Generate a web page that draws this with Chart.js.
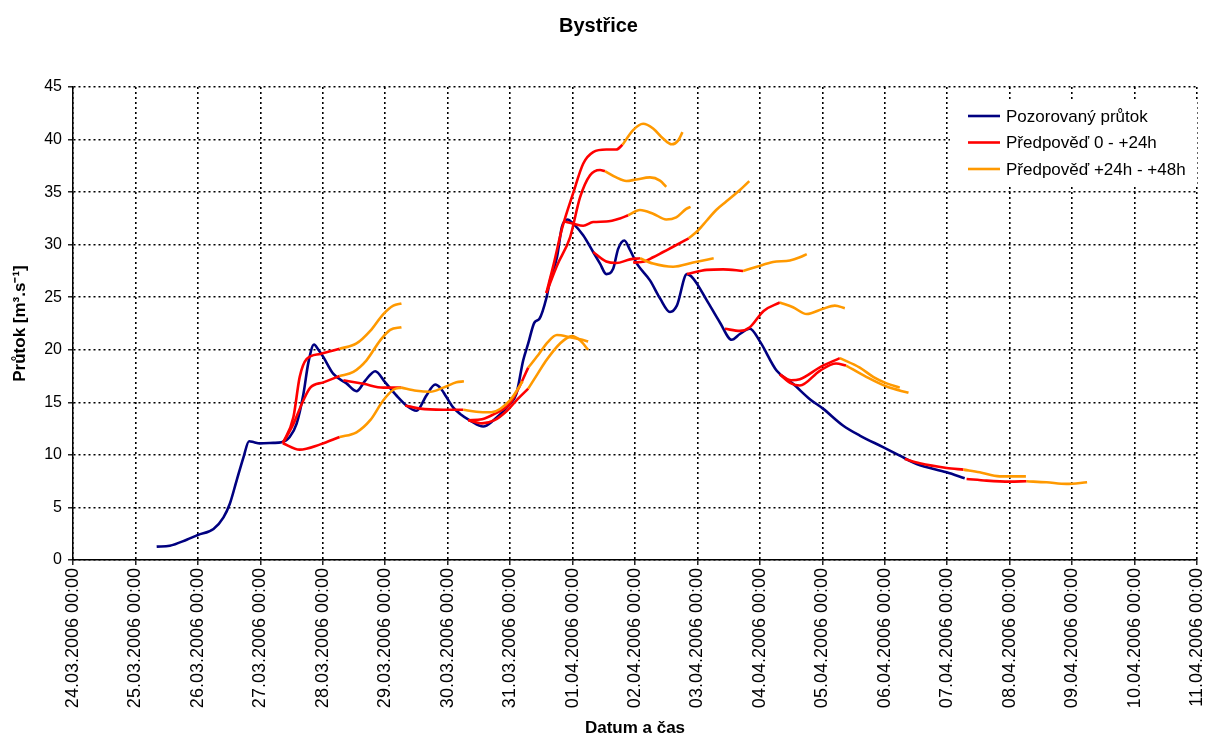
<!DOCTYPE html>
<html>
<head>
<meta charset="utf-8">
<title>Bystřice</title>
<script src="https://cdn.jsdelivr.net/npm/chart.js@4"></script>
<style>
  html, body { margin: 0; padding: 0; background: #fff; }
  #wrap { width: 1206px; height: 737px; position: relative; }
</style>
</head>
<body>
<div id="wrap"><canvas id="chart"></canvas></div>
<script>
// Day ticks: x values are days counted from 24.03.2006 00:00
const dayLabels = [
  '24.03.2006 00:00', '25.03.2006 00:00', '26.03.2006 00:00', '27.03.2006 00:00',
  '28.03.2006 00:00', '29.03.2006 00:00', '30.03.2006 00:00', '31.03.2006 00:00',
  '01.04.2006 00:00', '02.04.2006 00:00', '03.04.2006 00:00', '04.04.2006 00:00',
  '05.04.2006 00:00', '06.04.2006 00:00', '07.04.2006 00:00', '08.04.2006 00:00',
  '09.04.2006 00:00', '10.04.2006 00:00', '11.04.2006 00:00'
];

const seriesNames = ['Pozorovaný průtok', 'Předpověď 0 - +24h', 'Předpověď +24h - +48h'];
const seriesColors = ['#000080', '#FF0000', '#FF9900'];

// Observed discharge [m3/s]
const observedDays = [
  1.34, 1.55, 1.82, 2.00, 2.25, 2.41, 2.51, 2.62, 2.73, 2.82, 2.90, 2.99, 3.21, 3.34,
  3.47, 3.58, 3.69, 3.77, 3.86, 3.93, 4.01, 4.17, 4.38, 4.54, 4.68, 4.84, 5.00, 5.18,
  5.34, 5.50, 5.66, 5.80, 5.88, 5.98, 6.09, 6.20, 6.36, 6.57, 6.73, 7.00, 7.10, 7.21,
  7.29, 7.39, 7.47, 7.58, 7.64, 7.75, 7.83, 7.92, 8.01, 8.17, 8.33, 8.44, 8.54, 8.65,
  8.73, 8.83, 8.92, 9.03, 9.24, 9.40, 9.56, 9.67, 9.83, 9.93, 10.15, 10.36, 10.55,
  10.68, 10.84, 11.00, 11.27, 11.53, 11.80, 12.01, 12.33, 12.60, 12.98, 13.24, 13.51,
  13.99, 14.28
];
const observedFlow = [
  1.27, 1.36, 1.93, 2.38, 2.95, 4.06, 5.33, 7.55, 9.77, 11.3, 11.2, 11.1, 11.14, 11.2,
  11.7, 12.95, 15.8, 18.8, 20.5, 20.0, 19.3, 17.7, 16.8, 16.06, 17.07, 17.96, 16.9, 15.65,
  14.7, 14.2, 15.65, 16.7, 16.4, 15.5, 14.5, 13.9, 13.27, 12.7, 13.27, 14.86, 15.8, 19.0,
  20.6, 22.6, 22.95, 24.9, 26.6, 28.8, 31.7, 32.4, 32.0, 30.9, 29.3, 28.2, 27.2, 27.7,
  29.6, 30.4, 29.5, 28.2, 26.6, 24.9, 23.6, 24.2, 27.2, 26.8, 24.7, 22.6, 20.95,
  21.5, 22.0, 20.8, 18.0, 16.76, 15.3, 14.4, 12.8, 11.84, 10.72, 9.93, 9.14,
  8.34, 7.77
];

// Forecast runs, first 24 hours: [day, discharge]
const forecast0to24 = [
  [[3.36, 11.1], [3.53, 13.6], [3.63, 17.4], [3.74, 19.1], [3.96, 19.6], [4.27, 20.1]],
  [[3.36, 11.1], [3.53, 12.95], [3.69, 15.2], [3.80, 16.4], [4.01, 16.9], [4.27, 17.5]],
  [[3.36, 11.1], [3.63, 10.5], [3.96, 11.0], [4.27, 11.7]],
  [[4.33, 17.1], [4.65, 16.76], [4.97, 16.4], [5.26, 16.4]],
  [[5.32, 14.7], [5.56, 14.4], [5.93, 14.3], [6.25, 14.3]],
  [[6.33, 13.3], [6.55, 13.0], [6.75, 13.3], [6.95, 14.2], [7.12, 15.3], [7.29, 16.3]],
  [[6.33, 13.3], [6.55, 13.4], [6.75, 13.9], [7.00, 14.9], [7.15, 16.5], [7.29, 18.3]],
  [[7.58, 25.4], [7.70, 28.2], [7.83, 31.5], [8.01, 34.9], [8.17, 37.7], [8.33, 38.8], [8.54, 39.05], [8.70, 39.05], [8.80, 39.5]],
  [[7.58, 25.4], [7.75, 28.0], [7.96, 30.7], [8.12, 34.5], [8.28, 36.6], [8.44, 37.1], [8.52, 37.0]],
  [[7.87, 32.2], [8.01, 32.0], [8.17, 31.8], [8.33, 32.15], [8.54, 32.2], [8.76, 32.5], [8.89, 32.8]],
  [[8.33, 29.3], [8.54, 28.4], [8.70, 28.25], [8.92, 28.6], [9.08, 28.7]],
  [[8.97, 28.3], [9.15, 28.4], [9.29, 28.8], [9.45, 29.3], [9.61, 29.8], [9.86, 30.6]],
  [[9.83, 27.2], [10.15, 27.6], [10.41, 27.65], [10.73, 27.5]],
  [[10.44, 22.0], [10.68, 21.8], [10.84, 22.15], [11.06, 23.7], [11.32, 24.5]],
  [[11.32, 17.65], [11.50, 17.1], [11.64, 17.2], [11.98, 18.4], [12.28, 19.2]],
  [[11.32, 17.65], [11.50, 16.8], [11.64, 16.6], [11.96, 18.0], [12.22, 18.7], [12.38, 18.5]],
  [[13.32, 9.6], [13.56, 9.2], [13.99, 8.76], [14.26, 8.6]],
  [[14.31, 7.71], [14.63, 7.55], [15.00, 7.46], [15.27, 7.49]]
];

// Forecast runs, hours 24 to 48: [day, discharge]
const forecast24to48 = [
  [[4.27, 20.1], [4.54, 20.6], [4.76, 21.8], [4.97, 23.4], [5.13, 24.2], [5.26, 24.4]],
  [[4.27, 17.5], [4.49, 17.9], [4.70, 19.0], [4.92, 20.9], [5.08, 21.9], [5.26, 22.15]],
  [[4.27, 11.7], [4.54, 12.15], [4.76, 13.3], [4.97, 15.2], [5.13, 16.2], [5.26, 16.4]],
  [[5.26, 16.4], [5.50, 16.1], [5.72, 16.0], [5.93, 16.4], [6.14, 16.9], [6.26, 17.0]],
  [[6.25, 14.3], [6.46, 14.1], [6.70, 14.05], [7.00, 15.2], [7.20, 17.0]],
  [[7.29, 16.3], [7.45, 17.8], [7.58, 19.0], [7.80, 20.6], [7.99, 21.3], [8.12, 20.9], [8.25, 20.0]],
  [[7.29, 18.3], [7.45, 19.5], [7.60, 20.7], [7.75, 21.4], [7.96, 21.2], [8.12, 21.0], [8.25, 20.8]],
  [[8.80, 39.5], [8.97, 40.9], [9.13, 41.5], [9.29, 41.05], [9.45, 40.1], [9.59, 39.55], [9.69, 39.9], [9.76, 40.7]],
  [[8.52, 37.0], [8.70, 36.4], [8.86, 36.05], [9.02, 36.2], [9.24, 36.4], [9.40, 36.1], [9.50, 35.5]],
  [[8.89, 32.8], [9.08, 33.3], [9.29, 32.95], [9.50, 32.4], [9.66, 32.6], [9.82, 33.4], [9.89, 33.6]],
  [[9.08, 28.7], [9.29, 28.2], [9.61, 27.9], [9.93, 28.3], [10.26, 28.7]],
  [[9.86, 30.6], [10.00, 31.3], [10.15, 32.3], [10.30, 33.3], [10.46, 34.1], [10.68, 35.2], [10.83, 36.05]],
  [[10.73, 27.5], [10.95, 27.9], [11.21, 28.35], [11.48, 28.5], [11.64, 28.8], [11.75, 29.1]],
  [[11.32, 24.5], [11.53, 24.05], [11.75, 23.4], [12.01, 23.9], [12.20, 24.2], [12.36, 23.96]],
  [[12.28, 19.2], [12.60, 18.3], [12.82, 17.4], [13.03, 16.8], [13.24, 16.4]],
  [[12.38, 18.5], [12.71, 17.4], [13.03, 16.5], [13.38, 15.9]],
  [[14.26, 8.6], [14.52, 8.34], [14.84, 7.96], [15.26, 7.96]],
  [[15.27, 7.49], [15.59, 7.39], [15.91, 7.24], [16.24, 7.39]]
];

const FONT = '"Liberation Sans", Arial, Helvetica, sans-serif';

function lineDataset(label, color, points, order) {
  return {
    label,
    data: points.map(p => ({ x: p[0], y: p[1] })),
    borderColor: color,
    backgroundColor: color,
    borderWidth: 2.6,
    pointRadius: 0,
    pointHoverRadius: 0,
    fill: false,
    cubicInterpolationMode: 'monotone',
    order
  };
}

const datasets = [];
datasets.push(lineDataset(seriesNames[0], seriesColors[0],
  observedDays.map((d, i) => [d, observedFlow[i]]), 2));
forecast0to24.forEach(run => datasets.push(lineDataset(seriesNames[1], seriesColors[1], run, 1)));
forecast24to48.forEach(run => datasets.push(lineDataset(seriesNames[2], seriesColors[2], run, 0)));

// Key box in the upper right corner of the plot area
const seriesKey = {
  id: 'seriesKey',
  afterDatasetsDraw(chart) {
    const { ctx, chartArea } = chart;
    const x0 = chartArea.right - 247;
    const y0 = chartArea.top + 15;
    ctx.save();
    ctx.fillStyle = '#ffffff';
    ctx.fillRect(x0, y0, 247, 84);
    ctx.font = '17px ' + FONT;
    ctx.textBaseline = 'middle';
    ctx.textAlign = 'left';
    seriesNames.forEach((name, i) => {
      const y = y0 + 14 + i * 26.5;
      ctx.strokeStyle = seriesColors[i];
      ctx.lineWidth = 2.6;
      ctx.beginPath();
      ctx.moveTo(x0 + 18, y);
      ctx.lineTo(x0 + 50, y);
      ctx.stroke();
      ctx.fillStyle = '#000';
      ctx.fillText(name, x0 + 56, y + 1);
    });
    ctx.restore();
  }
};

new Chart(document.getElementById('chart'), {
  type: 'line',
  data: { datasets },
  plugins: [seriesKey],
  options: {
    responsive: true,
    maintainAspectRatio: false,
    animation: false,
    events: [],
    layout: { padding: { left: 0, right: 9, top: 0, bottom: 0 } },
    plugins: {
      legend: { display: false },
      tooltip: { enabled: false },
      title: {
        display: true,
        text: 'Bystřice',
        color: '#000',
        font: { family: FONT, size: 20, weight: 'bold', lineHeight: 1.2 },
        padding: { top: 14, bottom: 49 }
      }
    },
    scales: {
      x: {
        type: 'linear',
        min: 0,
        max: dayLabels.length - 1,
        afterBuildTicks(scale) {
          scale.ticks = dayLabels.map((_, i) => ({ value: i }));
        },
        afterFit(scale) {
          scale.height = 177;
          scale.paddingLeft = 0;
          scale.paddingRight = 0;
        },
        ticks: {
          autoSkip: false,
          minRotation: 90,
          maxRotation: 90,
          padding: 3,
          color: '#000',
          font: { family: FONT, size: 18 },
          callback: v => dayLabels[Math.round(v)]
        },
        grid: {
          color: '#000',
          lineWidth: 1.6,
          drawTicks: true,
          tickLength: 5,
          tickColor: '#000',
          tickWidth: 1.3,
          tickBorderDash: []
        },
        border: { display: true, color: '#000', width: 1.5, dash: [2, 3] },
        title: {
          display: true,
          text: 'Datum a čas',
          color: '#000',
          font: { family: FONT, size: 17, weight: 'bold', lineHeight: 1.0 },
          padding: { top: 0, bottom: 0 }
        }
      },
      y: {
        type: 'linear',
        min: 0,
        max: 45,
        afterFit(scale) {
          scale.width = 73;
          scale.paddingTop = 0;
          scale.paddingBottom = 0;
        },
        ticks: {
          stepSize: 5,
          padding: 6,
          color: '#000',
          font: { family: FONT, size: 16 }
        },
        grid: {
          color: '#000',
          lineWidth: 1.6,
          drawTicks: true,
          tickLength: 5,
          tickColor: '#000',
          tickWidth: 1.3,
          tickBorderDash: []
        },
        border: { display: true, color: '#000', width: 1.5, dash: [2, 3] },
        title: {
          display: true,
          text: 'Průtok [m³.s⁻¹]',
          color: '#000',
          font: { family: FONT, size: 17, weight: 'bold', lineHeight: 1.2 },
          padding: { top: 10, bottom: 0 }
        }
      }
    }
  }
});
</script>
</body>
</html>
